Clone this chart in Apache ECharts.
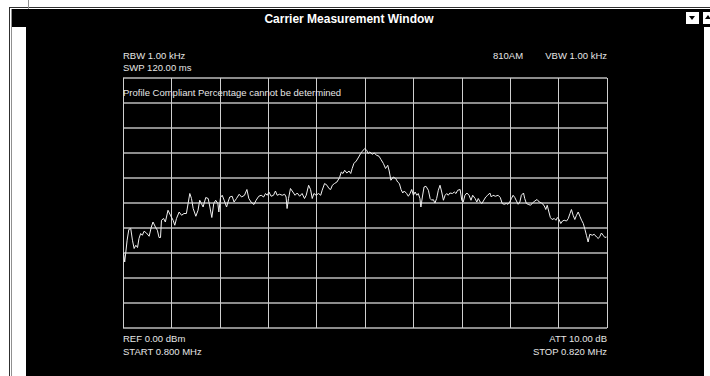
<!DOCTYPE html>
<html>
<head>
<meta charset="utf-8">
<script src="https://cdn.jsdelivr.net/npm/echarts@6/dist/echarts.min.js"></script>
<style>
  html, body { margin:0; padding:0; background:#ffffff; }
  #wrap { position:relative; width:710px; height:376px; overflow:hidden; background:#ffffff; }
  .abs { position:absolute; }
  #chart { position:absolute; left:0; top:0; width:710px; height:376px; }
</style>
</head>
<body>
<div id="wrap">
  <div class="abs" style="left:9px;top:7px;width:701px;height:1px;background:#303030"></div>
  <div class="abs" style="left:9px;top:7px;width:1px;height:369px;background:#303030"></div>
  <div class="abs" style="left:11px;top:9px;width:1px;height:367px;background:#909090"></div>
  <div class="abs" style="left:28px;top:0px;width:1px;height:9px;background:#909090"></div>
  <div class="abs" style="left:12px;top:9px;width:698px;height:18px;background:#000"></div>
  <div class="abs" style="left:26px;top:27px;width:678px;height:349px;background:#000"></div>
  <div class="abs" style="left:686px;top:12px;width:13px;height:12px;background:#fff"></div>
  <div class="abs" style="left:689px;top:16px;width:0;height:0;border-left:3px solid transparent;border-right:3px solid transparent;border-top:4px solid #000"></div>
  <div class="abs" style="left:703px;top:12px;width:7px;height:12px;background:#fff"></div>
  <div class="abs" style="left:705px;top:15px;width:0;height:0;border-left:3px solid transparent;border-right:3px solid transparent;border-bottom:4px solid #000"></div>
  <div id="chart"></div>
</div>
<script>
// Trace: frequency (kHz) and level (dBm)
var freqKHz = [
  800.02, 800.07, 800.11, 800.17, 800.24, 800.32, 800.39, 800.46, 800.53, 800.60,
  800.66, 800.73, 800.80, 800.87, 800.97, 801.08, 801.17, 801.24, 801.34, 801.42,
  801.49, 801.55, 801.59, 801.68, 801.75, 801.86, 801.96, 802.07, 802.14, 802.21,
  802.32, 802.42, 802.52, 802.62, 802.69, 802.76, 802.83, 802.90, 803.01, 803.10,
  803.17, 803.24, 803.31, 803.42, 803.52, 803.59, 803.67, 803.75, 803.83, 803.92,
  803.96, 804.03, 804.10, 804.18, 804.28, 804.34, 804.41, 804.51, 804.59, 804.69,
  804.80, 804.90, 805.02, 805.12, 805.20, 805.29, 805.41, 805.50, 805.61, 805.71,
  805.81, 805.89, 805.96, 806.03, 806.12, 806.22, 806.30, 806.37, 806.47, 806.58,
  806.68, 806.74, 806.78, 806.84, 806.92, 807.02, 807.11, 807.20, 807.30, 807.40,
  807.50, 807.57, 807.67, 807.75, 807.82, 807.89, 807.98, 808.08, 808.17, 808.23,
  808.33, 808.43, 808.51, 808.58, 808.65, 808.74, 808.84, 808.95, 809.02, 809.09,
  809.16, 809.25, 809.34, 809.41, 809.47, 809.54, 809.64, 809.74, 809.82, 809.89,
  809.99, 810.07, 810.13, 810.20, 810.30, 810.38, 810.48, 810.58, 810.66, 810.76,
  810.85, 810.94, 811.00, 811.07, 811.17, 811.27, 811.35, 811.42, 811.49, 811.56,
  811.62, 811.72, 811.79, 811.86, 811.93, 812.00, 812.07, 812.14, 812.20, 812.27,
  812.31, 812.37, 812.44, 812.52, 812.62, 812.69, 812.76, 812.82, 812.89, 812.96,
  813.03, 813.10, 813.17, 813.24, 813.31, 813.38, 813.44, 813.51, 813.61, 813.69,
  813.76, 813.83, 813.93, 814.00, 814.06, 814.13, 814.21, 814.30, 814.38, 814.45,
  814.55, 814.62, 814.68, 814.76, 814.83, 814.89, 814.99, 815.07, 815.16, 815.22,
  815.29, 815.39, 815.50, 815.59, 815.67, 815.75, 815.84, 815.91, 815.98, 816.05,
  816.12, 816.19, 816.26, 816.33, 816.40, 816.46, 816.55, 816.60, 816.67, 816.74,
  816.84, 816.92, 817.02, 817.11, 817.20, 817.29, 817.36, 817.43, 817.47, 817.53,
  817.60, 817.66, 817.73, 817.82, 817.89, 817.95, 818.02, 818.09, 818.16, 818.23,
  818.33, 818.40, 818.47, 818.53, 818.60, 818.67, 818.74, 818.81, 818.88, 818.95,
  819.02, 819.09, 819.15, 819.22, 819.29, 819.39, 819.47, 819.57, 819.64, 819.71,
  819.77, 819.84, 819.91, 819.98
];
var levelDbm = [
  -69.9, -73.6, -70.2, -64.9, -60.6, -60.2, -64.9, -68.2, -66.9, -67.8,
  -64.2, -62.2, -62.9, -61.3, -62.0, -63.3, -59.6, -57.6, -59.6, -60.9,
  -63.8, -63.8, -56.9, -56.2, -57.6, -52.9, -54.9, -56.9, -58.9, -56.2,
  -53.6, -54.9, -54.2, -54.2, -50.2, -46.2, -48.2, -52.2, -55.3, -52.9,
  -48.9, -50.2, -51.6, -47.8, -48.2, -51.6, -55.8, -50.2, -48.9, -50.2,
  -53.6, -47.8, -46.9, -48.9, -51.6, -49.6, -47.6, -47.3, -49.6, -48.2,
  -46.5, -47.6, -46.9, -44.6, -48.2, -49.6, -50.6, -48.9, -47.3, -46.9,
  -47.6, -46.2, -46.9, -45.6, -47.3, -46.9, -45.2, -46.9, -46.5, -46.9,
  -46.5, -47.6, -52.2, -48.2, -44.2, -45.6, -46.9, -46.0, -47.3, -46.2,
  -48.2, -46.9, -42.9, -44.6, -48.2, -46.2, -46.9, -46.2, -46.9, -44.9,
  -42.2, -42.9, -44.2, -44.6, -42.9, -42.2, -41.6, -39.8, -37.6, -38.2,
  -36.9, -38.0, -37.2, -38.2, -36.2, -34.2, -33.2, -31.6, -30.2, -29.3,
  -28.2, -28.9, -30.2, -29.6, -30.5, -30.0, -30.9, -31.3, -32.6, -34.2,
  -36.2, -34.9, -37.2, -40.9, -39.6, -40.2, -41.6, -42.2, -44.6, -46.0,
  -45.2, -46.2, -47.3, -46.2, -44.6, -46.9, -45.6, -46.9, -46.2, -48.2,
  -51.6, -47.6, -43.6, -43.3, -44.9, -48.2, -48.9, -48.6, -50.0, -48.2,
  -44.9, -42.9, -45.6, -48.9, -46.9, -46.2, -46.9, -46.0, -46.2, -45.6,
  -46.2, -44.9, -44.6, -48.9, -49.6, -46.9, -46.0, -46.9, -48.9, -46.9,
  -48.2, -49.6, -48.2, -49.6, -50.2, -49.2, -47.6, -46.9, -46.0, -47.6,
  -46.9, -47.3, -46.9, -47.8, -50.2, -50.5, -50.2, -50.5, -49.6, -48.2,
  -46.9, -47.8, -49.2, -50.5, -49.6, -46.9, -46.0, -48.2, -50.2, -50.5,
  -50.9, -50.0, -49.2, -48.6, -49.6, -50.0, -50.5, -51.6, -52.6, -50.9,
  -53.6, -55.8, -56.6, -56.2, -56.9, -55.8, -56.6, -58.2, -57.2, -56.9,
  -57.2, -56.2, -54.2, -52.6, -54.9, -56.6, -54.9, -53.6, -55.3, -56.9,
  -58.2, -60.6, -62.9, -65.6, -62.5, -62.9, -62.5, -63.6, -64.2, -63.3,
  -62.0, -62.9, -63.8, -63.6
];
// Axis settings (span and divisions)
var startKHz = 800, stopKHz = 820, freqDivKHz = 2;
var refDbm = 0, bottomDbm = -100, dbPerDiv = 10;

// Annotation texts
var titleText = 'Carrier Measurement Window';
var topLeft = ['RBW 1.00 kHz', 'SWP 120.00 ms'];
var topMid = '810AM';
var topRight = 'VBW 1.00 kHz';
var profileNote = 'Profile Compliant Percentage cannot be determined';
var bottomLeft = ['REF 0.00 dBm', 'START 0.800 MHz'];
var bottomRight = ['ATT 10.00 dB', 'STOP 0.820 MHz'];

var pts = freqKHz.map(function (f, i) { return [f, levelDbm[i]]; });

var small = { fill: '#e6e6e6', fontSize: 9.5, fontFamily: 'Liberation Sans, Arial, sans-serif' };
function txt(s, x, y, align) {
  return { type: 'text', z: 100, x: x, y: y,
    style: Object.assign({ text: s, textAlign: align || 'left', textVerticalAlign: 'middle' }, small) };
}

var chart = echarts.init(document.getElementById('chart'), null, { renderer: 'svg' });
chart.setOption({
  animation: false,
  backgroundColor: 'transparent',
  grid: { left: 123, top: 78, width: 484, height: 250, show: false, containLabel: false },
  xAxis: {
    type: 'value', min: startKHz, max: stopKHz, interval: freqDivKHz,
    axisLine: { show: false }, axisTick: { show: false }, axisLabel: { show: false },
    splitLine: { show: true, lineStyle: { color: '#cfcfcf', width: 1 } }
  },
  yAxis: {
    type: 'value', min: bottomDbm, max: refDbm, interval: dbPerDiv,
    axisLine: { show: false }, axisTick: { show: false }, axisLabel: { show: false },
    splitLine: { show: true, lineStyle: { color: '#8c8c8c', width: 2 } }
  },
  series: [{
    type: 'line', data: pts, showSymbol: false, symbol: 'none',
    lineStyle: { color: '#f0f0f0', width: 1 }, z: 5
  }],
  graphic: [
    { type: 'text', z: 100, x: 349, y: 19,
      style: { text: titleText, fill: '#ffffff', fontSize: 12, fontWeight: 'bold',
        fontFamily: 'Liberation Sans, Arial, sans-serif',
        textAlign: 'center', textVerticalAlign: 'middle' } },
    txt(topLeft[0], 123, 55),
    txt(topLeft[1], 123, 67),
    txt(topMid, 493, 55),
    txt(topRight, 607, 55, 'right'),
    txt(profileNote, 123, 92),
    txt(bottomLeft[0], 123, 338),
    txt(bottomLeft[1], 123, 351),
    txt(bottomRight[0], 607, 338, 'right'),
    txt(bottomRight[1], 607, 351, 'right')
  ]
});
</script>
</body>
</html>
